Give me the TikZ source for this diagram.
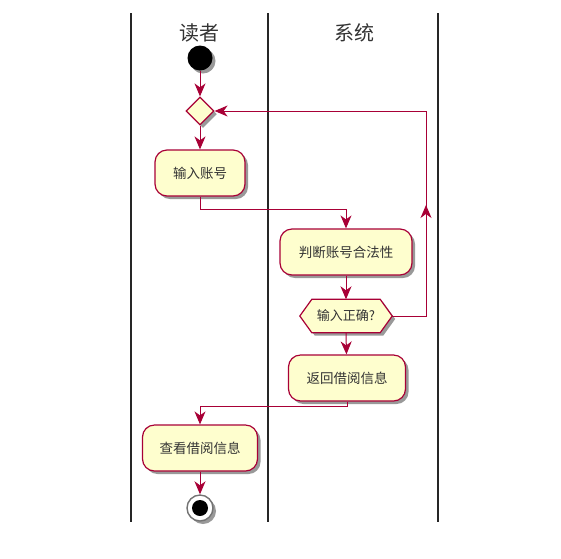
\documentclass[tikz,border=0pt]{standalone}
\usepackage{fontspec}
\newfontfamily\cjk{Noto Sans CJK SC}
\usetikzlibrary{shapes.geometric,arrows.meta,shadows}
\definecolor{pfill}{HTML}{FEFECE}
\definecolor{pline}{HTML}{A80036}
\begin{document}
\begin{tikzpicture}[x=1pt,y=-1pt,
  shad/.style={drop shadow={shadow xshift=3pt,shadow yshift=-3pt,opacity=0.4,fill=black}},
  act/.style={draw=pline,fill=pfill,line width=1.2pt,rounded corners=12pt,minimum height=46pt,
    inner sep=0pt,font=\cjk\fontsize{13.5}{15}\selectfont,text=black!80,shad},
  flow/.style={draw=pline,line width=1pt,-{Stealth[length=13pt,width=11pt,inset=4pt]}},
  lane/.style={line width=1.8pt,black!85},
  head/.style={font=\cjk\fontsize{20}{22}\selectfont,text=black!80}]
\useasboundingbox (0,0) rectangle (561,558);
% lanes
\coordinate (l1t) at (131,13); \coordinate (l1b) at (131,522);
\coordinate (l2t) at (268,13); \coordinate (l2b) at (268,522);
\coordinate (l3t) at (438,13); \coordinate (l3b) at (438,522);
\draw[lane] (l1t) -- (l1b);
\draw[lane] (l2t) -- (l2b);
\draw[lane] (l3t) -- (l3b);
\node[head] (h1) at (199,33) {读者};
\node[head] (h2) at (354,33) {系统};
% start
\node[circle,fill=black,minimum size=25pt,inner sep=0pt,shad] (start) at (200,58) {};
% merge diamond
\node[diamond,draw=pline,fill=pfill,line width=1.2pt,minimum width=28pt,minimum height=28pt,inner sep=0pt,shad] (d) at (200,111) {};
% activities
\node[act,minimum width=90pt] (a1) at (200,173) {输入账号};
\node[act,minimum width=132pt] (a2) at (346,252) {判断账号合法性};
% hexagon
\node[minimum width=92pt,minimum height=33pt,inner sep=0pt] (h) at (346,316) {};
\path[draw=pline,fill=pfill,line width=1.2pt,shad]
  (h.west) -- ([xshift=12pt]h.north west) -- ([xshift=-12pt]h.north east) -- (h.east)
  -- ([xshift=-12pt]h.south east) -- ([xshift=12pt]h.south west) -- cycle;
\node[font=\cjk\fontsize{13}{14}\selectfont,text=black!80] (ht) at (h) {输入正确?};
\node[act,minimum width=117pt] (a3) at (347,378) {返回借阅信息};
\node[act,minimum width=115pt] (a4) at (200,448) {查看借阅信息};
% end
\node[circle,draw=black!55,fill=white,line width=1.4pt,minimum size=26pt,inner sep=0pt,shad] (end) at (200,508) {};
\node[circle,fill=black,minimum size=16pt,inner sep=0pt] (endin) at (200,508) {};
% flows
\draw[flow] (start) -- (d);
\draw[flow] (d) -- (a1);
\draw[flow] (a1.south) -- ++(0,13) -| (a2.north);
\draw[flow] (a2) -- (h.north);
\draw[flow] (h.south) -- (a3);
\coordinate (lc) at (426,111);
\draw[flow] (h.east) -| (lc) -- (d.east);
\coordinate (up1) at (426,230); \coordinate (up2) at (426,205);
\draw[flow] (up1) -- (up2);
\draw[flow] (a3.south) -- ++(0,5) -| (a4.north);
\draw[flow] (a4) -- (end);
\end{tikzpicture}
\end{document}
